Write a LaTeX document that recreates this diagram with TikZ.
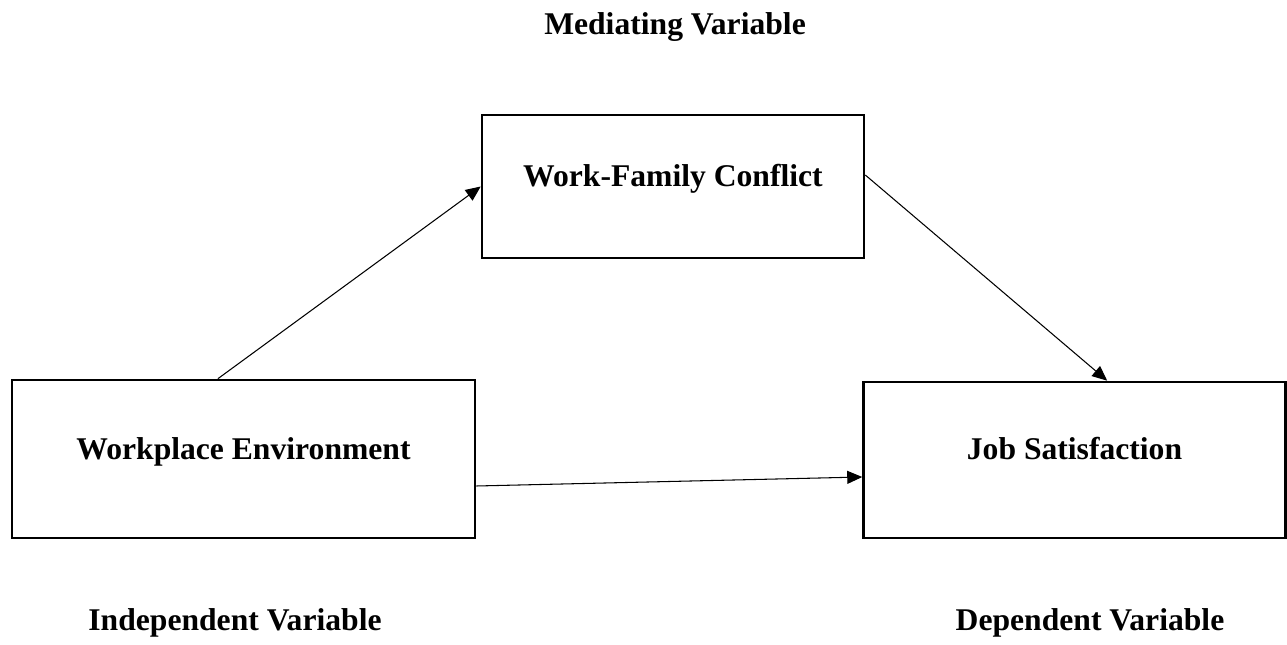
\documentclass[tikz,border=0pt]{standalone}
\usepackage{fontspec}
\setmainfont{Liberation Serif}
\usepackage{tikz}
\usetikzlibrary{calc}
\usetikzlibrary{positioning}
\usetikzlibrary{arrows.meta}

\begin{document}
\begin{tikzpicture}[x=0.02cm, y=-0.02cm,
    varbox/.style={rectangle, draw=black, line width=1.5pt, inner sep=0pt},
    boxtext/.style={font=\fontsize{18}{22}\selectfont\bfseries, yshift=0.15cm},
    heading/.style={font=\fontsize{18}{22}\selectfont\bfseries, anchor=base},
    link/.style={-{Triangle[length=0.3cm, width=0.26cm]}, line width=0.6pt}]
\useasboundingbox (0,0) rectangle (1287,645);

\node[varbox, minimum width=9.26cm, minimum height=3.16cm, label={[boxtext]center:Workplace Environment}]  (WE)  at ( 243.5, 459 )  {};
\node[varbox, minimum width=7.64cm, minimum height=2.86cm, label={[boxtext]center:Work-Family Conflict}]  (WFC) at ( 673,   186.5 ) {};
\node[varbox, minimum width=8.44cm, minimum height=3.12cm, label={[boxtext, yshift=0.08cm]center:Job Satisfaction}] (JS) at ( 1074.5, 460 ) {};

\node[heading] (MV) at ( 675, 35 )   {Mediating Variable};
\node[heading] (IV) at ( 235, 630 )  {Independent Variable};
\node[heading] (DV) at ( 1090, 630 ) {Dependent Variable};

\draw[link] ($(WE.north west)!0.445!(WE.north east)$) -- (WFC.west);
\draw[link] ([yshift=0.23cm]WFC.east) -- ($(JS.north west)!0.577!(JS.north east)$);
\draw[link] ([yshift=-0.54cm]WE.east) -- ([yshift=-0.34cm]JS.west);
\end{tikzpicture}
\end{document}
